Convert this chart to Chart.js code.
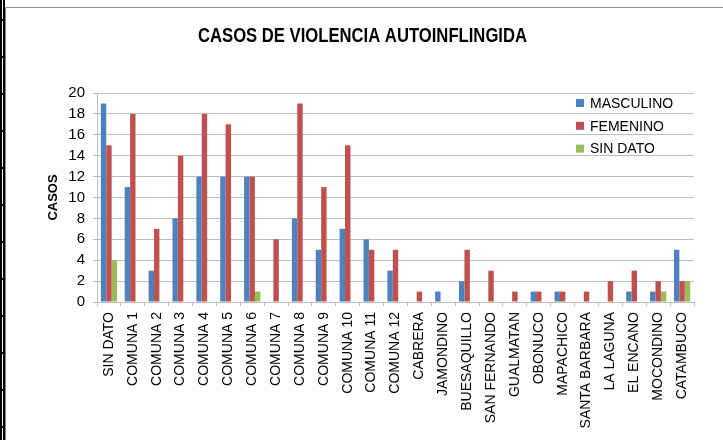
<!DOCTYPE html>
<html>
<head>
<meta charset="utf-8">
<script src="https://cdn.jsdelivr.net/npm/chart.js@4.4.0/dist/chart.umd.min.js"></script>
<style>
    html, body { margin: 0; padding: 0; background: #fff; }
    body { width: 723px; height: 440px; position: relative; overflow: hidden; }
    #edge {
        position: absolute; left: 0; top: 0; width: 5px; height: 440px;
        box-sizing: border-box; border-left: 2px solid #000; border-right: 2px solid #000;
        background: repeating-linear-gradient(to bottom, transparent 0 19px, #000 19px 21px, transparent 21px 37px);
    }
    #frame {
        position: absolute; left: 5px; top: 7px; width: 718px; height: 433px;
        border-left: 1px solid #8c8c8c; border-top: 1px solid #8c8c8c;
    }
    #frame canvas { display: block; }
</style>
</head>
<body>
<div id="edge"></div>
<div id="frame"><canvas id="chart" width="717" height="432"></canvas></div>
<script>
// Datos
const categories = ['SIN DATO', 'COMUNA 1', 'COMUNA 2', 'COMUNA 3', 'COMUNA 4', 'COMUNA 5',
    'COMUNA 6', 'COMUNA 7', 'COMUNA 8', 'COMUNA 9', 'COMUNA 10', 'COMUNA 11', 'COMUNA 12',
    'CABRERA', 'JAMONDINO', 'BUESAQUILLO', 'SAN FERNANDO', 'GUALMATAN', 'OBONUCO',
    'MAPACHICO', 'SANTA BARBARA', 'LA LAGUNA', 'EL ENCANO', 'MOCONDINO', 'CATAMBUCO'];
const masculino = [19, 11, 3, 8, 12, 12, 12, 0, 8, 5, 7, 6, 3, 0, 1, 2, 0, 0, 1, 1, 0, 0, 1, 1, 5];
const femenino  = [15, 18, 7, 14, 18, 17, 12, 6, 19, 11, 15, 5, 5, 1, 0, 5, 3, 1, 1, 1, 1, 2, 3, 2, 2];
const sinDato   = [4, 0, 0, 0, 0, 0, 1, 0, 0, 0, 0, 0, 0, 0, 0, 0, 0, 0, 0, 0, 0, 0, 0, 1, 2];

const seriesNames = ['MASCULINO', 'FEMENINO', 'SIN DATO'];
const seriesColors = ['#4F81BD', '#C0504D', '#9BBB59'];
const chartTitle = 'CASOS DE VIOLENCIA AUTOINFLINGIDA';

Chart.defaults.font.family = "'Liberation Sans', Arial, sans-serif";
Chart.defaults.color = '#000';

// Condensed bold title (the original uses a narrow font), and the legend inside the plot area
const excelBits = {
    id: 'excelBits',
    afterDraw(chart) {
        const ctx = chart.ctx;
        ctx.save();
        ctx.font = "bold 20px 'Liberation Sans', Arial, sans-serif";
        ctx.textBaseline = 'middle';
        ctx.textAlign = 'center';
        ctx.fillStyle = '#000';
        ctx.translate(356.5, 28);
        ctx.scale(329 / ctx.measureText(chartTitle).width, 1);
        ctx.fillText(chartTitle, 0, 0);
        ctx.restore();

        ctx.save();
        ctx.font = "14px 'Liberation Sans', Arial, sans-serif";
        ctx.textBaseline = 'middle';
        ctx.textAlign = 'left';
        chart.data.datasets.forEach((ds, i) => {
            const y = 95 + i * 22.8;
            ctx.fillStyle = ds.backgroundColor;
            ctx.fillRect(570, y - 4, 8, 8);
            ctx.fillStyle = '#000';
            ctx.fillText(ds.label, 584, y + 1);
        });
        ctx.restore();
    }
};

const datasets = [masculino, femenino, sinDato].map((values, i) => ({
    label: seriesNames[i],
    data: values,
    backgroundColor: seriesColors[i],
    borderWidth: 0,
    barPercentage: 1,
    categoryPercentage: 0.68
}));

new Chart(document.getElementById('chart'), {
    type: 'bar',
    data: { labels: categories, datasets: datasets },
    plugins: [excelBits],
    options: {
        responsive: false,
        animation: false,
        layout: { padding: { left: 0, right: 29, top: 85, bottom: 0 } },
        plugins: {
            legend: { display: false },
            tooltip: { enabled: false },
            title: { display: false }
        },
        scales: {
            y: {
                min: 0,
                max: 20,
                ticks: { stepSize: 2, autoSkip: false, font: { size: 15 }, padding: 8, color: '#000' },
                grid: { color: '#BDBDBD', tickLength: 4, lineWidth: 1 },
                border: { color: '#BDBDBD' },
                title: {
                    display: true,
                    text: 'CASOS',
                    font: { size: 13, weight: 'bold' },
                    padding: { top: 40, bottom: 0 }
                },
                afterFit(scale) { scale.width = 91; }
            },
            x: {
                ticks: { minRotation: 90, maxRotation: 90, autoSkip: false, font: { size: 14 }, padding: 6, color: '#000' },
                grid: { display: true, drawOnChartArea: false, offset: true, tickLength: 4, color: '#BDBDBD' },
                border: { color: '#BDBDBD' },
                afterFit(scale) { scale.height = 138; }
            }
        }
    }
});
</script>
</body>
</html>
